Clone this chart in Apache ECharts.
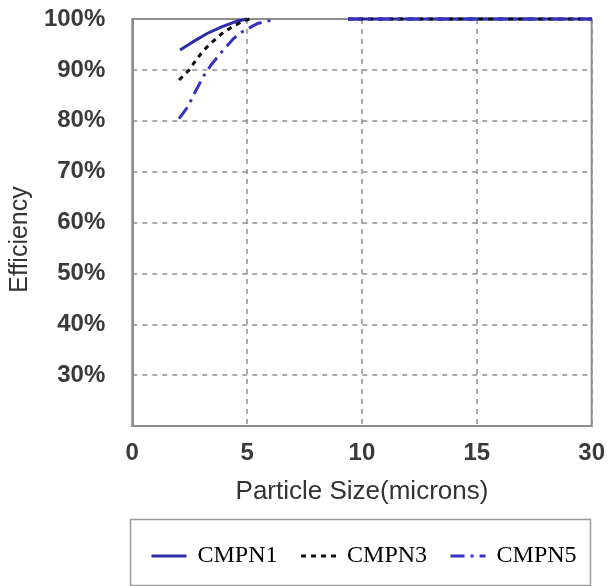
<!DOCTYPE html>
<html>
<head>
<meta charset="utf-8">
<script src="https://cdn.jsdelivr.net/npm/echarts@6/dist/echarts.min.js"></script>
<style>
  html, body { margin: 0; padding: 0; background: #ffffff; }
  #chart { width: 608px; height: 586px; }
</style>
</head>
<body>
<div id="chart"></div>
<script>
// ---- Data (x: particle size axis units, y: efficiency %) ----
const seriesNames = ['CMPN1', 'CMPN3', 'CMPN5'];
const xTickLabels = ['0', '5', '10', '15', '30'];
const yTickValues = [20, 30, 40, 50, 60, 70, 80, 90, 100];

const cmpn1 = [
  [2.08, 93.9], [2.6, 95.4], [3.28, 97.2], [3.92, 98.5], [4.5, 99.5], [5.0, 100],
  [7.0, null],
  [9.4, 100], [20, 100]
];
const cmpn3 = [
  [2.04, 88.0], [2.48, 90.0], [2.77, 91.9], [3.12, 93.9], [3.49, 95.5],
  [3.92, 97.2], [4.36, 98.5], [4.79, 99.5], [5.1, 100],
  [7.0, null],
  [9.4, 100], [20, 100]
];
const cmpn5 = [
  [2.04, 80.4], [2.41, 82.7], [2.73, 85.6], [3.12, 88.9], [3.42, 90.9],
  [3.85, 93.3], [4.42, 96.2], [4.79, 97.5], [5.44, 99.1], [6.09, 99.8],
  [7.5, null],
  [9.4, 100], [20, 100]
];

const chart = echarts.init(document.getElementById('chart'), null, { renderer: 'canvas' });

const sansFont = '"Liberation Sans", Arial, sans-serif';
const serifFont = '"Liberation Serif", "Times New Roman", serif';

const option = {
  backgroundColor: '#ffffff',
  animation: false,
  grid: {
    left: 126, right: 15, top: 19, bottom: 160,
    show: true, borderColor: '#8c8c8c', borderWidth: 2, backgroundColor: 'transparent'
  },
  xAxis: {
    type: 'value',
    min: 0, max: 20, interval: 5,
    name: 'Particle Size(microns)',
    nameLocation: 'middle',
    nameGap: 53,
    nameTextStyle: { fontFamily: sansFont, fontSize: 26, color: '#333' },
    axisLine: { show: true, lineStyle: { color: '#8c8c8c', width: 2 } },
    axisTick: { show: false },
    axisLabel: {
      margin: 15,
      fontFamily: sansFont, fontSize: 24, fontWeight: 'bold', color: '#3a3a3a',
      formatter: function (v) { return xTickLabels[Math.round(v / 5)]; }
    },
    splitLine: { show: true, lineStyle: { color: '#8f8f8f', type: [5, 5], width: 1.5 } }
  },
  yAxis: {
    type: 'value',
    min: yTickValues[0], max: yTickValues[yTickValues.length - 1], interval: 10,
    name: 'Efficiency',
    nameLocation: 'middle',
    nameGap: 97,
    nameTextStyle: { fontFamily: sansFont, fontSize: 25, color: '#333', padding: [0, 34, 0, 0] },
    axisLine: { show: true, lineStyle: { color: '#8c8c8c', width: 2 } },
    axisTick: { show: false },
    axisLabel: {
      margin: 27,
      fontFamily: sansFont, fontSize: 24, fontWeight: 'bold', color: '#3a3a3a',
      formatter: function (v) { return v === yTickValues[0] ? '' : v + '%'; }
    },
    splitLine: { show: true, lineStyle: { color: '#8f8f8f', type: [5, 5], width: 1.5 } }
  },
  legend: {
    data: seriesNames,
    left: 145,
    top: 539,
    itemWidth: 35,
    itemHeight: 14,
    itemGap: 22,
    itemStyle: { opacity: 0 },
    lineStyle: { width: 3 },
    textStyle: { fontFamily: serifFont, fontSize: 24, color: '#000', padding: [0, 0, 0, 6] }
  },
  graphic: [{
    type: 'rect',
    left: 128, top: 517,
    shape: { width: 460, height: 66 },
    style: { fill: 'none', stroke: '#9a9a9a', lineWidth: 1.5 },
    silent: true
  }],
  series: [
    {
      name: seriesNames[0], type: 'line', data: cmpn1, showSymbol: false, symbol: 'none',
      connectNulls: false, clip: false,
      lineStyle: { color: '#2c2ca8', width: 3, type: 'solid' },
      itemStyle: { color: '#2c2ca8' }
    },
    {
      name: seriesNames[1], type: 'line', data: cmpn3, showSymbol: false, symbol: 'none',
      connectNulls: false, clip: false,
      lineStyle: { color: '#111111', width: 3, type: [5, 5] },
      itemStyle: { color: '#111111' }
    },
    {
      name: seriesNames[2], type: 'line', data: cmpn5, showSymbol: false, symbol: 'none',
      connectNulls: false, clip: false,
      lineStyle: { color: '#3434c4', width: 3, type: [14, 6, 3, 6] },
      itemStyle: { color: '#3434c4' }
    }
  ]
};

chart.setOption(option);
</script>
</body>
</html>
